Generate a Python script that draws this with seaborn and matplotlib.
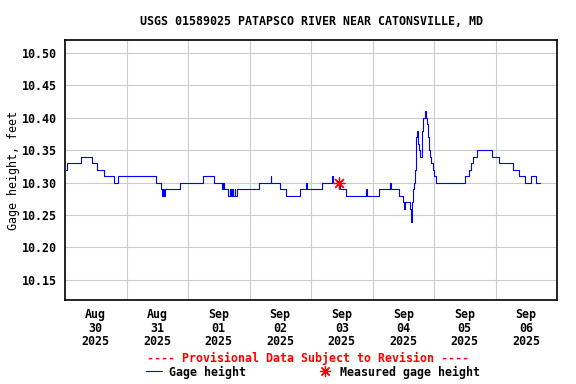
import matplotlib
matplotlib.use("Agg")
import numpy as np
import pandas as pd
import matplotlib.pyplot as plt
import matplotlib.dates as mdates
import seaborn as sns
from matplotlib.lines import Line2D

# gage height readings: hours since 2025-08-30 00:00 (change points), feet
hours = [0.25, 0.9, 6.2, 10.6, 12.6, 15.3, 19.1, 20.8, 35.7, 37.5, 37.8, 38.2, 38.6, 39.1,
         44.8, 53.9, 58.0, 61.4, 61.8, 62.1, 63.8, 64.3, 64.6, 65.0, 65.4, 66.2, 66.5, 67.3,
         75.7, 80.3, 80.5, 83.8, 86.4, 91.8, 93.9, 94.3, 100.2, 104.2, 104.5, 107.4, 109.7,
         117.3, 117.8, 122.7, 127.0, 127.3, 130.5, 131.8, 132.4, 132.7, 134.7, 135.2, 135.4,
         135.8, 136.1, 136.4, 136.7, 137.0, 137.3, 137.6, 137.9, 138.3, 138.7, 139.2, 139.5,
         139.9, 140.3, 140.8, 141.2, 141.5, 141.9, 142.6, 143.0, 143.6, 144.1, 144.6,
         156.2, 157.5, 158.4, 159.1, 160.6, 166.5, 169.2, 174.7, 177.3, 179.6, 181.7, 183.8, 185.3]
heights = [10.32, 10.33, 10.34, 10.33, 10.32, 10.31, 10.30, 10.31, 10.30, 10.29, 10.28, 10.29, 10.28, 10.29,
           10.30, 10.31, 10.30, 10.29, 10.30, 10.29, 10.28, 10.29, 10.28, 10.29, 10.28, 10.29, 10.28, 10.29,
           10.30, 10.31, 10.30, 10.29, 10.28, 10.29, 10.30, 10.29, 10.30, 10.31, 10.30, 10.29, 10.28,
           10.29, 10.28, 10.29, 10.30, 10.29, 10.28, 10.27, 10.26, 10.27, 10.26, 10.24, 10.27,
           10.29, 10.30, 10.31, 10.32, 10.37, 10.38, 10.37, 10.36, 10.35, 10.34, 10.35, 10.38,
           10.40, 10.41, 10.40, 10.39, 10.37, 10.35, 10.34, 10.33, 10.32, 10.31, 10.30,
           10.31, 10.32, 10.33, 10.34, 10.35, 10.34, 10.33, 10.32, 10.31, 10.30, 10.31, 10.30, 10.30]

# field measurement
meas_hours = [106.9]
meas_heights = [10.30]

days = ["2025-08-30", "2025-08-31", "2025-09-01", "2025-09-02",
        "2025-09-03", "2025-09-04", "2025-09-05", "2025-09-06"]
y_ticks = [10.15, 10.20, 10.25, 10.30, 10.35, 10.40, 10.45, 10.50]

start = pd.Timestamp(days[0])
df = pd.DataFrame({"time": start + pd.to_timedelta(hours, unit="h"), "height": heights})
meas = pd.DataFrame({"time": start + pd.to_timedelta(meas_hours, unit="h"), "height": meas_heights})

sns.set_style("white")
plt.rcParams["font.family"] = ["DejaVu Sans Mono"]
plt.rcParams["font.weight"] = "bold"
plt.rcParams["font.size"] = 8.4
for k in ["text.color", "axes.labelcolor", "xtick.color", "ytick.color"]:
    plt.rcParams[k] = "black"

fig = plt.figure(figsize=(5.76, 3.84), dpi=100)
ax = fig.add_axes([65 / 576, 1 - 300 / 384, (557 - 65) / 576, 260 / 384])

sns.lineplot(data=df, x="time", y="height", color="#0000ff", lw=0.8,
             drawstyle="steps-post", estimator=None, legend=False, ax=ax)
sns.scatterplot(data=meas, x="time", y="height", marker=(8, 2, 0), s=70,
                color="red", edgecolor="red", linewidth=0.9, legend=False, ax=ax, zorder=5)

day_ts = pd.to_datetime(days)
ax.set_xlim(start, start + pd.Timedelta(days=len(days)))
ax.set_ylim(10.119, 10.52)
ax.set_xticks(day_ts + pd.Timedelta(hours=12))
ax.set_xticks(day_ts[1:], minor=True)
ax.xaxis.set_major_formatter(mdates.DateFormatter("%b\n%d\n%Y"))
ax.set_yticks(y_ticks)
ax.set_yticklabels([f"{v:.2f}" for v in y_ticks])

ax.grid(False)
ax.grid(which="minor", axis="x", color="#cccccc", lw=0.8)
ax.grid(which="major", axis="y", color="#cccccc", lw=0.8)
ax.tick_params(which="both", length=0)
ax.tick_params(axis="x", pad=6)
ax.tick_params(axis="y", pad=6)
for lbl in ax.get_xticklabels():
    lbl.set_linespacing(1.05)
for s in ax.spines.values():
    s.set_color("black")
    s.set_linewidth(1.2)

ax.set_xlabel("")
ax.set_ylabel("Gage height, feet", labelpad=1)
ax.set_title("USGS 01589025 PATAPSCO RIVER NEAR CATONSVILLE, MD", fontsize=8.4,
             fontweight="bold", pad=11)

fig.text(308 / 576, 1 - 358 / 384, "---- Provisional Data Subject to Revision ----",
         color="red", ha="center", va="center", fontweight="bold")

handles = [Line2D([], [], color="#0000ff", lw=0.8),
           Line2D([], [], color="red", marker=(8, 2, 0), markersize=8, lw=0, markeredgewidth=0.9)]
fig.legend(handles, ["Gage height", "Measured gage height"], ncol=2, frameon=False,
           loc="center left", bbox_to_anchor=(146 / 576, 1 - 372 / 384), borderpad=0,
           borderaxespad=0, handlelength=1.4, handletextpad=0.6, columnspacing=6.0)

fig.savefig("out.png", dpi=100)
